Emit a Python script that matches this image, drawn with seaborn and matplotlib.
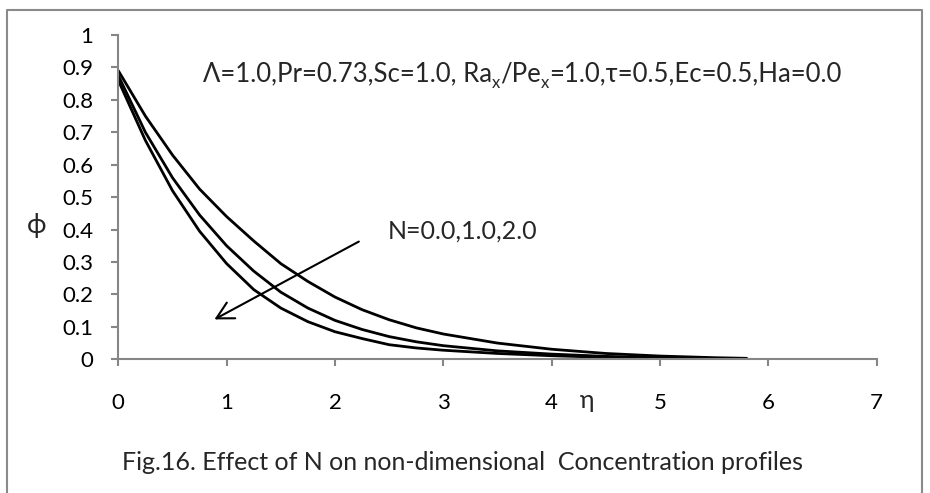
import numpy as np
import pandas as pd
import matplotlib
matplotlib.use("Agg")
import matplotlib.pyplot as plt
from matplotlib.lines import Line2D
import seaborn as sns

# ---- data ----
eta = [0, 0.25, 0.5, 0.75, 1.0, 1.25, 1.5, 1.75, 2.0, 2.25, 2.5, 2.75, 3.0,
       3.5, 4.0, 4.5, 5.0, 5.5, 5.8]
phi_N0 = [0.89, 0.75, 0.63, 0.525, 0.44, 0.365, 0.295, 0.24, 0.192, 0.153,
          0.122, 0.097, 0.078, 0.05, 0.031, 0.018, 0.010, 0.005, 0.003]
phi_N1 = [0.875, 0.70, 0.56, 0.445, 0.35, 0.272, 0.207, 0.158, 0.12, 0.092,
          0.07, 0.054, 0.042, 0.026, 0.016, 0.009, 0.005, 0.002, 0.001]
phi_N2 = [0.86, 0.675, 0.52, 0.395, 0.295, 0.215, 0.158, 0.116, 0.085, 0.064,
          0.045, 0.035, 0.028, 0.018, 0.011, 0.006, 0.003, 0.001, 0.0]
N_values = ["0.0", "1.0", "2.0"]

x_ticks = [0, 1, 2, 3, 4, 5, 6, 7]
x_tick_labels = ["0", "1", "2", "3", "4", "5", "6", "7"]
y_ticks = [0, 0.1, 0.2, 0.3, 0.4, 0.5, 0.6, 0.7, 0.8, 0.9, 1.0]
y_tick_labels = ["0", "0.1", "0.2", "0.3", "0.4", "0.5", "0.6", "0.7", "0.8", "0.9", "1"]

param_pieces = ["Λ=1.0,Pr=0.73,Sc=1.0, Ra", "x", "/Pe", "x", "=1.0,τ=0.5,Ec=0.5,Ha=0.0"]
arrow_label = "N=0.0,1.0,2.0"
caption = "Fig.16. Effect of N on non-dimensional  Concentration profiles"

df = pd.DataFrame({
    "eta": eta * 3,
    "phi": phi_N0 + phi_N1 + phi_N2,
    "N": [N_values[0]] * len(eta) + [N_values[1]] * len(eta) + [N_values[2]] * len(eta),
})

sns.set_style("white")
FAM = ["Lato", "DejaVu Sans"]
plt.rcParams["font.family"] = FAM

W, H = 930, 493
fig = plt.figure(figsize=(W / 100, H / 100), dpi=100)
ax = fig.add_axes([118.3 / W, 1 - 359.3 / H, (876.7 - 118.3) / W, (359.3 - 35) / H])

sns.lineplot(data=df, x="eta", y="phi", hue="N", palette=["black"] * 3,
             linewidth=2.0, legend=False, ax=ax)

ax.set_xlim(0, 7)
ax.set_ylim(0, 1)
ax.set_xticks(x_ticks)
ax.set_xticklabels(x_tick_labels)
ax.set_yticks(y_ticks)
ax.set_yticklabels(y_tick_labels)
ax.set_xlabel("")
ax.set_ylabel("")

axis_gray = "#868686"
for s in ["top", "right"]:
    ax.spines[s].set_visible(False)
for s in ["left", "bottom"]:
    ax.spines[s].set_color(axis_gray)
    ax.spines[s].set_linewidth(1.5)
ax.tick_params(axis="x", direction="out", length=5, width=1.5, color=axis_gray,
               pad=19, labelsize=16, labelcolor="black", bottom=True)
ax.tick_params(axis="y", direction="out", length=5, width=1.5, color=axis_gray,
               pad=13, labelsize=16, labelcolor="black", left=True)
ax.set_facecolor("white")

# arrow
ax.annotate("", xy=(0.887, 0.123), xytext=(2.22, 0.363),
            arrowprops=dict(arrowstyle="->,head_length=1.2,head_width=0.64",
                            lw=1.5, color="black", mutation_scale=10,
                            shrinkA=0, shrinkB=0))
ax.text(2.49, 0.395, arrow_label, fontsize=18, ha="left", va="center", family=FAM)

# parameter text built from pieces (with subscripts)
fs_main = 18.5
fs_sub = 12
t0 = ax.text(0.782, 0.857, param_pieces[0], fontsize=fs_main, ha="left",
             va="baseline", family=FAM)
t1 = ax.annotate(param_pieces[1], xy=(1, 0), xycoords=t0, xytext=(0, -3),
                 textcoords="offset points", fontsize=fs_sub, ha="left", va="bottom", family=FAM)
t2 = ax.annotate(param_pieces[2], xy=(1, 0), xycoords=(t1, t0), fontsize=fs_main,
                 ha="left", va="bottom", family=FAM)
t3 = ax.annotate(param_pieces[3], xy=(1, 0), xycoords=t2, xytext=(0, -3),
                 textcoords="offset points", fontsize=fs_sub, ha="left", va="bottom", family=FAM)
t4 = ax.annotate(param_pieces[4], xy=(1, 0), xycoords=(t3, t0), fontsize=fs_main,
                 ha="left", va="bottom", family=FAM)

# axis labels
fig.text(36.5 / W, 1 - 225 / H, "ϕ", fontsize=19, ha="center", va="center", family=FAM)
fig.text(586.7 / W, 1 - 407.5 / H, "η", fontsize=18, ha="center", va="baseline", family=FAM)

# caption
fig.text(462 / W, 1 - 463 / H, caption, fontsize=18, ha="center", va="center", family=FAM)

# outer border (left, top, right)
bx0, bx1, by_top = 7 / W, 922 / W, 1 - 10 / H
fig.add_artist(Line2D([bx0, bx0, bx1, bx1], [-0.02, by_top, by_top, -0.02],
                      transform=fig.transFigure, color="#8a8a8a", lw=1.5))

fig.savefig("out.png", dpi=100, facecolor="white")
